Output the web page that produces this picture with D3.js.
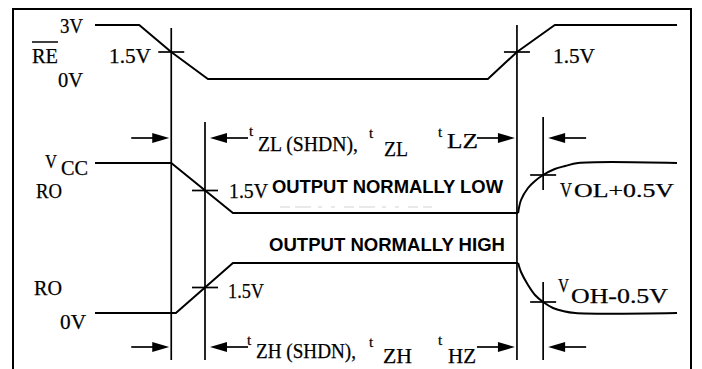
<!DOCTYPE html>
<html>
<head>
<meta charset="utf-8">
<script src="https://cdn.jsdelivr.net/npm/d3@7"></script>
<style>
  html, body { margin: 0; padding: 0; background: #fff; }
  svg { display: block; }
  .serif { font-family: "Liberation Serif", "DejaVu Serif", serif; fill: #000; stroke: #000; stroke-width: 0.25; }
  .bold { font-family: "Liberation Sans", Arial, sans-serif; font-weight: bold; fill: #000; }
</style>
</head>
<body>
<svg id="chart" width="702" height="369"></svg>
<script>
// ---- time base (arbitrary units across the diagram) ----
const timeDomain = [0, 100];

// guide lines: RE crossing (left), output 1.5V crossing, RE crossing (right), output ±0.5V point
const guideTimes = [13.1, 18.9, 72.5, 77.0];

// RE input, volts
const reLevels = [0, 3];
const reWave = [[0, 3], [7.6, 3], [13.1, 1.5], [19.4, 0], [67.5, 0], [72.5, 1.5], [79, 3], [100, 3]];

// RO, output normally low (0 = low, 1 = Vcc)
const roLowWave = [[0, 1], [13.1, 1], [23.7, 0], [72.7, 0]];
const roLowRecovery = [[72.7, 0], [73.2, 0.26], [74.4, 0.5], [75.6, 0.64], [77.0, 0.76], [79.0, 0.88], [80.8, 0.94], [83.0, 1], [100, 1]];

// RO, output normally high (0 = 0V, 1 = high)
const roHighWave = [[0, 0], [13.9, 0], [23.7, 1], [72.7, 1]];
const roHighRecovery = [[72.7, 1], [73.2, 0.82], [74.4, 0.56], [75.6, 0.36], [77.0, 0.22], [78.7, 0.1], [80.4, 0.04], [82.5, 0], [100, 0]];

// crossing points marked with a short horizontal tick
const reCrossings = [[13.1, 1.5], [72.5, 1.5]];
const roLowCrossings = [[18.9, 0.45], [77.0, 0.76]];
const roHighCrossings = [[18.9, 0.51], [77.0, 0.22]];

// timing intervals (pairs of guide times)
const intervals = [[13.1, 18.9], [72.5, 77.0]];

// text
const reLabels = ["3V", "RE", "1.5V", "0V"];
const levelLabels = ["1.5V", "1.5V", "1.5V"];
const roLabels = ["RO", "RO", "0V"];
const stateLabels = ["OUTPUT NORMALLY LOW", "OUTPUT NORMALLY HIGH"];

// ---- drawing ----
const svg = d3.select("#chart");
svg.append("rect").attr("width", 702).attr("height", 369).attr("fill", "#fff");

const x = d3.scaleLinear().domain(timeDomain).range([95, 677]);
const yRE = d3.scaleLinear().domain(reLevels).range([79, 25]);
const yLow = d3.scaleLinear().domain([0, 1]).range([213, 163]);
const yHigh = d3.scaleLinear().domain([0, 1]).range([313, 263]);

// frame (open at the bottom)
svg.append("path")
  .attr("d", "M13,369 V9 H691 V369")
  .attr("fill", "none").attr("stroke", "#000").attr("stroke-width", 2);

const g = svg.append("g");

function wave(data, yScale, curve) {
  const line = d3.line().x(d => x(d[0])).y(d => yScale(d[1])).curve(curve || d3.curveLinear);
  g.append("path").datum(data).attr("d", line)
    .attr("fill", "none").attr("stroke", "#000").attr("stroke-width", 2)
    .attr("stroke-linejoin", "round");
}
wave(reWave, yRE);
wave(roLowWave, yLow);
wave(roLowRecovery, yLow, d3.curveCatmullRom);
wave(roHighWave, yHigh);
wave(roHighRecovery, yHigh, d3.curveCatmullRom);

// vertical guides
const guideSpans = [
  [[28, 360]],
  [[122, 360]],
  [[25, 360]],
  [[117, 190], [282, 360]]
];
guideTimes.forEach((t, i) => {
  guideSpans[i].forEach(s => {
    g.append("line").attr("x1", x(t)).attr("x2", x(t)).attr("y1", s[0]).attr("y2", s[1])
      .attr("stroke", "#000").attr("stroke-width", 1.7);
  });
});

// crossing ticks
function ticks(pts, yScale, half) {
  g.selectAll(null).data(pts).enter().append("line")
    .attr("x1", d => x(d[0]) - half).attr("x2", d => x(d[0]) + half)
    .attr("y1", d => yScale(d[1])).attr("y2", d => yScale(d[1]))
    .attr("stroke", "#000").attr("stroke-width", 1.7);
}
ticks(reCrossings, yRE, 13);
ticks(roLowCrossings, yLow, 13);
ticks(roHighCrossings, yHigh, 13);

// measurement arrows: each interval gets an inward arrow at both guides
function arrow(tip, y, dir, len) {
  // dir = +1 points right, -1 points left
  const tail = tip - dir * len;
  g.append("line").attr("x1", tail).attr("x2", tip - dir * 8).attr("y1", y).attr("y2", y)
    .attr("stroke", "#000").attr("stroke-width", 1.7);
  g.append("path")
    .attr("d", `M${tip},${y} L${tip - dir * 17},${y - 5} L${tip - dir * 17},${y + 5} Z`)
    .attr("fill", "#000");
}
[138, 347].forEach(yy => {
  intervals.forEach(iv => {
    arrow(x(iv[0]) - 2, yy, 1, 38);
    arrow(x(iv[1]) + 5, yy, -1, 38);
  });
});

// ---- labels ----
function txt(str, px, py, size, width, cls) {
  const t = g.append("text").attr("class", cls || "serif")
    .attr("x", px).attr("y", py).attr("font-size", size).text(str);
  if (width) t.attr("textLength", width).attr("lengthAdjust", "spacingAndGlyphs");
  return t;
}

// RE
txt(reLabels[0], 60, 33, 22, 23);
txt(reLabels[1], 32, 63, 21, 26);
g.append("line").attr("x1", 32).attr("x2", 58).attr("y1", 42).attr("y2", 42)
  .attr("stroke", "#000").attr("stroke-width", 1.5);
txt(reLabels[2], 109, 63, 22, 42);
txt(reLabels[3], 58, 87, 22, 25);
txt(levelLabels[0], 553, 63, 22, 42);

// output normally low
txt("V", 45, 168, 19, 12);
txt("CC", 61, 175, 21, 27);
txt(roLabels[0], 36, 198, 21, 26);
txt(levelLabels[1], 229, 198, 21, 39);
txt(stateLabels[0], 272, 193, 18, 231, "bold");
g.append("line").attr("x1", 280).attr("x2", 432).attr("y1", 207).attr("y2", 207)
  .attr("stroke", "#d4d4d4").attr("stroke-width", 1.2).attr("stroke-dasharray", "10,5,16,7,4,9,4,9");

txt("t", 249, 136, 15);
txt("ZL (SHDN),", 258, 151, 20, 100);
txt("t", 369, 138, 15);
txt("ZL", 384, 156, 21, 24);
txt("t", 438, 137, 15);
txt("LZ", 447, 148, 21, 31);

txt("V", 560, 197, 22, 12);
txt("OL+0.5V", 574, 197, 18, 100);

// output normally high
txt(roLabels[1], 34, 295, 21, 28);
txt(roLabels[2], 60, 329, 22, 26);
txt(levelLabels[2], 228, 298, 22, 36);
txt(stateLabels[1], 269, 251, 18, 236, "bold");

txt("t", 247, 345, 15);
txt("ZH (SHDN),", 256, 358, 20, 100);
txt("t", 369, 347, 15);
txt("ZH", 383, 363, 21, 29);
txt("t", 438, 345, 15);
txt("HZ", 448, 363, 21, 28);

txt("V", 558, 292, 19, 11);
txt("OH-0.5V", 571, 303, 21, 97);
</script>
</body>
</html>
